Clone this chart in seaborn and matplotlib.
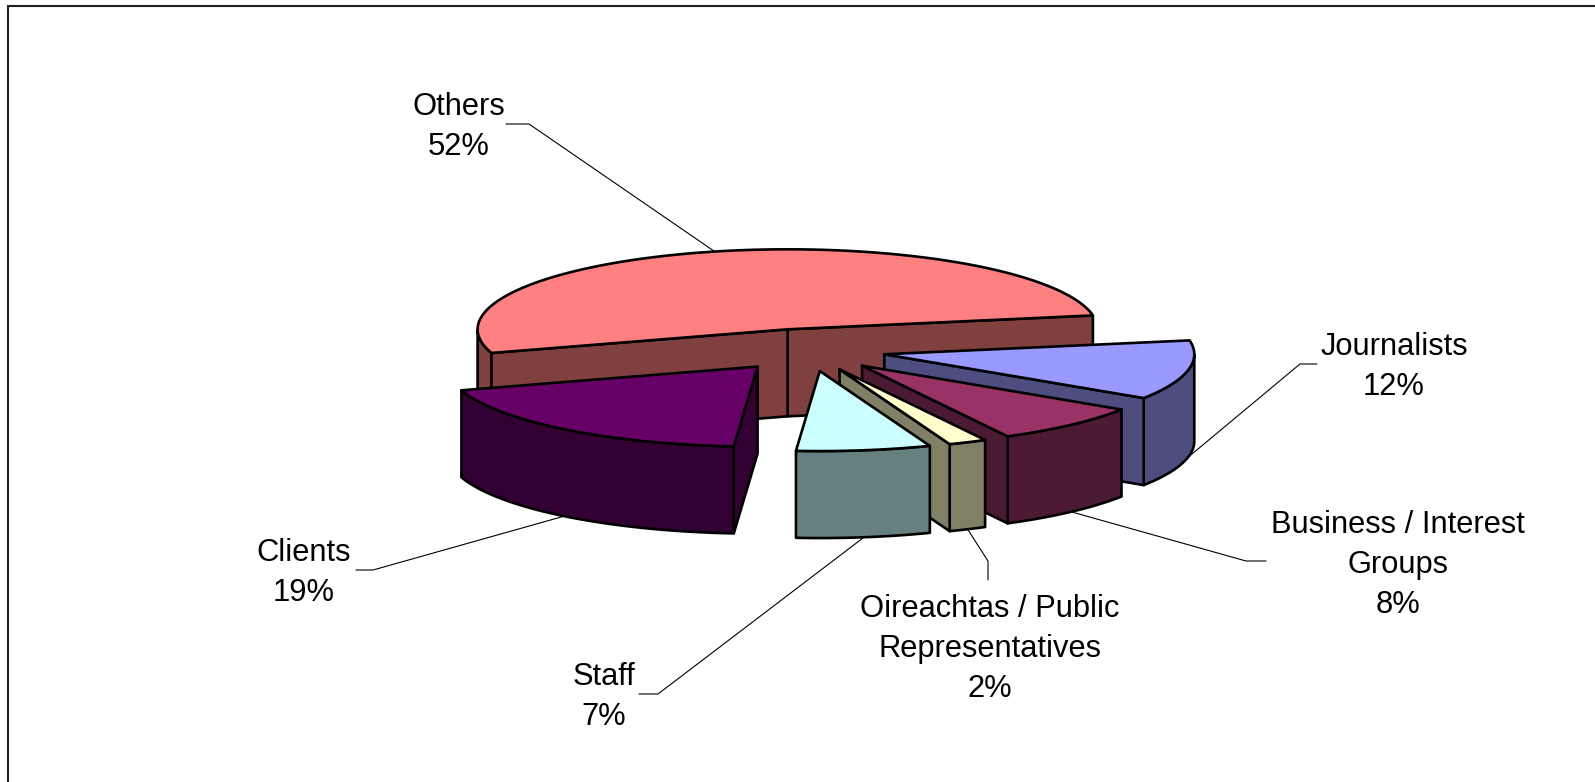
import numpy as np
import matplotlib
matplotlib.use("Agg")
import matplotlib.pyplot as plt
import seaborn as sns

# ---- data (counter-clockwise, as drawn) ----
categories = ["Others", "Clients", "Staff", "Oireachtas / Public\nRepresentatives",
              "Business / Interest\nGroups", "Journalists"]
shares = [52, 19, 7, 2, 8, 12]
top_colors = ["#FF8080", "#660066", "#CCFFFF", "#FFFFCC", "#993366", "#9999FF"]

# ---- geometry of the projected pie (orthographic, in figure pixels) ----
CX, CY = 807.0, 350.0
RX, RY = 310.0, 80.0
DEPTH = 87.0
EXPLODE = 0.266
START_DEG = 10.0
EDGE_LW = 1.9
x_nudge = [0.0, 2.0, 1.0, -1.5, -0.5, -3.5]

# label centre and leader elbow / end, one per category
label_xy = [(459, 127), (304, 573), (604, 697), (990, 649), (1398, 565), (1394, 367)]
elbows = [((529, 124), (506, 124)),
          ((373, 570), (356, 570)),
          ((658, 694), (639, 694)),
          ((988, 561), (988, 580)),
          ((1246, 561), (1266, 561)),
          ((1300, 364), (1317, 364))]

sns.set_theme(style="white")
plt.rcParams["font.family"] = ["Liberation Sans", "DejaVu Sans"]
palette = sns.color_palette(top_colors)

fig, ax = plt.subplots(figsize=(15.95, 7.82), dpi=100)
ax.set_position([0, 0, 1, 1])
ax.set_xlim(0, 1595)
ax.set_ylim(782, 0)
ax.axis("off")
sns.despine(ax=ax, left=True, bottom=True)

# chart frame, cut off by the image at right and bottom
ax.plot([8, 8, 1595], [782, 6, 6], color="#202020", lw=1.5, solid_joinstyle="miter", zorder=1)


def rim(theta, apex, drop=0.0):
    return apex[0] + RX * np.cos(theta), apex[1] - RY * np.sin(theta) + drop


fractions = np.array(shares, dtype=float) / sum(shares)
edges = np.radians(START_DEG) + 2 * np.pi * np.concatenate([[0], np.cumsum(fractions)])
mids = (edges[:-1] + edges[1:]) / 2
apexes = [(CX + EXPLODE * RX * np.cos(m) + x_nudge[i], CY - EXPLODE * RY * np.sin(m))
          for i, m in enumerate(mids)]


def poly(xs, ys, color, z):
    ax.fill(xs, ys, facecolor=color, edgecolor="black", lw=EDGE_LW,
            joinstyle="round", zorder=z)


def draw_slice(i, z):
    a, b, apex = edges[i], edges[i + 1], apexes[i]
    top = palette[i]
    wall = tuple(0.5 * c for c in top)
    # outer wall: parts of the rim on the viewer's side
    ts = np.linspace(a, b, 300)
    front = ts[np.sin(ts) < 0]
    if len(front):
        x0, y0 = rim(front, apex)
        x1, y1 = rim(front, apex, DEPTH)
        poly(np.r_[x0, x1[::-1]], np.r_[y0, y1[::-1]], wall, z)
    # cut faces turned to the viewer
    for edge, normal in ((a, a - np.pi / 2), (b, b + np.pi / 2)):
        if np.sin(normal) < 0:
            ex, ey = rim(edge, apex)
            poly([apex[0], ex, ex, apex[0]], [apex[1], ey, ey + DEPTH, apex[1] + DEPTH], wall, z + 0.1)
    # top
    x0, y0 = rim(ts, apex)
    poly(np.r_[apex[0], x0], np.r_[apex[1], y0], top, z + 0.2)


order = [0, 5, 4, 3, 2, 1]  # back to front
for n, i in enumerate(order):
    draw_slice(i, 3 + n)

# labels and leaders
for i, name in enumerate(categories):
    m = mids[i]
    drop = DEPTH if np.sin(m) < 0 else 0.0
    ax_, ay_ = rim(m, apexes[i], drop)
    (ex, ey), (fx, fy) = elbows[i]
    ax.plot([ax_, ex, fx], [ay_, ey, fy], color="black", lw=0.8, zorder=2)
    ax.text(label_xy[i][0], label_xy[i][1], f"{name}\n{shares[i]}%", ha="center", va="center",
            fontsize=22.2, color="black", linespacing=1.42, multialignment="center", zorder=20)

fig.savefig("out.png", dpi=100, facecolor="white")
